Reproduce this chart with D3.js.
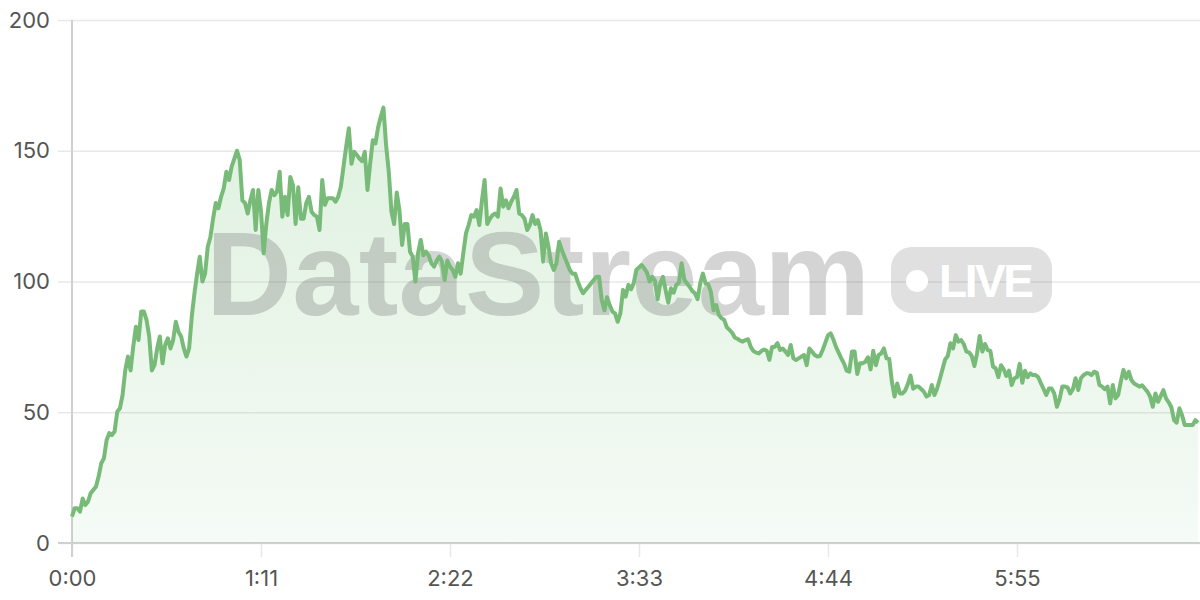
<!DOCTYPE html>
<html><head><meta charset="utf-8">
<script src="https://cdn.jsdelivr.net/npm/d3@7"></script>
<style>html,body{margin:0;padding:0;background:#fff;}svg{display:block;}</style>
</head><body>
<svg id="chart" width="1200" height="600"></svg>
<script>
const values = [
10.1,13.3,13.3,12,17,14.5,15.8,19,20.3,21.5,
25.4,30.5,32.4,39.4,42,41.3,42.6,50.2,51.5,56.6,
66,71.3,66,75,82.7,77.6,88.5,88.5,85.3,79,
66,68,74.4,79,68.7,75.7,78.3,74.4,77.6,84.6,
80.8,79,74.4,71.3,74.4,86.6,95.5,103,109.5,100,
103,113.3,117,124,130,128,132.4,135.6,142,138.8,
144,147,150,146.5,131,130,126,131,135,119.7,
135,127,110.8,122,130,135,133,134.4,142,124.8,
132.4,125.4,140,136.9,122,136,124,124,130,132.4,
126.7,125.4,124.8,119.7,138.8,129.3,131.8,131.8,131.8,130.5,
132.4,136.3,144,151.6,158.6,145,149.6,148.4,147,146,
149.6,135,145,154,152.8,159,163,166.5,152,142,
126.7,122,134,127.3,114,122,122,111.4,109.5,100,
110.8,115.9,110,111.4,110,107,105.7,108,109.5,107.6,
100.6,108,105.7,104.4,101.8,107,103,110.8,118.4,121.6,
125.4,124.8,127.3,121.6,131,138.8,122,124,125.4,126,
124.8,135.6,128.6,131,128,130.5,132.4,135,126,125.4,
124,119.7,121.6,125.4,122,123.5,119.7,107.6,118.4,113.3,
107,104.4,107,115.2,112,109.5,107,104.4,103,103,
100,97.4,95.5,96.8,98,99.3,100.6,101.8,101.8,93,
89,94,91,88.5,87.8,84.6,87.8,96.8,94.2,98.7,
97,99.3,104.4,105.4,106.3,105,103.4,100,101.8,100.3,
93.2,99.3,101.8,96.7,91.9,97.4,95.7,98.7,99.6,107,
100.8,99.3,98,96.4,95.5,93.2,99.3,103,99.3,99,
96,89,91,87.2,86,85.3,82.5,81.5,80.4,78.6,
78.1,77.4,77,77.6,77.9,75,73.4,72.8,72.5,73.4,
74,73.5,70,75,75,76.4,73.8,74.4,73.2,71.9,
75.7,70.6,70,70.6,71.3,71.9,68,74.4,73.2,71.9,
71.3,71.5,73.8,76.6,79.4,80.2,77.9,75,72.8,70.6,
68.7,65.9,65.5,73.2,73.2,64.6,68.7,68.7,69.3,71,
66.4,73.5,68,71.9,72.5,74.4,70.6,70.4,61.7,56,
61,57.2,57.2,58.3,60.8,64,59,59.8,59.8,58.9,
57.9,56,56.6,60.4,56.6,59.1,62.6,66.4,70.2,71.5,
76.4,74.4,79.5,77,77.6,76.1,73.2,72.9,71.5,67.7,
72.5,79.2,73.2,76.1,73.8,73.5,67.4,66.8,63.4,68,
66.4,63.9,65.9,60.4,63,63.4,68.5,61.3,65.9,63.4,
64.9,64.2,64.2,63.4,61,58.9,56.6,59.1,59.1,57.2,
52.1,54.9,59.8,59.8,59.5,57.2,58.8,63,58.5,63,
64.2,64.9,64.9,64.2,65.5,65.1,60.4,59.8,58.8,59.8,
53.4,60.4,55.3,56.6,61.7,66.2,63,65.5,62.3,61,
60.4,59.8,60.3,59.1,57.9,56,52.1,57.2,54,56.2,
58.5,55.3,53.8,51.9,47,46,51.5,48.9,45.1,45.1,
45.1,45.1,47,46
];
const seconds = values.map((v, i) => i);
const xTickValues = [0, 71, 142, 213, 284, 355];
const xTickLabels = ["0:00", "1:11", "2:22", "3:33", "4:44", "5:55"];
const yTickValues = [0, 50, 100, 150, 200];
const watermarkText = "DataStream";
const badgeText = "LIVE";

(function () {
const svg = d3.select("#chart");
const mLeft = 72, mRight = 1198, mTop = 20, mBottom = 543;
const x = d3.scaleLinear().domain([0, 423]).range([mLeft, mRight]);
const y = d3.scaleLinear().domain([0, 200]).range([mBottom, mTop]);
const data = seconds.map((s, i) => ({s, v: values[i]}));
const labelFont = "Inter, 'Open Sans', sans-serif";

const defs = svg.append("defs");
const grad = defs.append("linearGradient").attr("id", "fillGrad")
  .attr("gradientUnits", "userSpaceOnUse")
  .attr("x1", 0).attr("x2", 0).attr("y1", y(d3.max(values))).attr("y2", mBottom);
grad.append("stop").attr("offset", "0%").attr("stop-color", "#5cb860").attr("stop-opacity", 0.2);
grad.append("stop").attr("offset", "100%").attr("stop-color", "#5cb860").attr("stop-opacity", 0.06);

const yAxis = d3.axisLeft(y).tickValues(yTickValues).tickSize(-(1200 - mLeft)).tickSizeOuter(0).tickPadding(22);
const gy = svg.append("g").attr("transform", `translate(${mLeft},0)`).call(yAxis);
gy.select(".domain").remove();
gy.selectAll(".tick line").attr("stroke", "#e8e8e8").attr("stroke-width", 1.5).attr("x1", -14);
gy.selectAll(".tick text").attr("fill", "#555").style("font-size", "22px").style("font-family", labelFont).attr("x", -22);

const xAxis = d3.axisBottom(x).tickValues(xTickValues).tickFormat((d, i) => xTickLabels[i]).tickSize(-(mBottom - mTop)).tickSizeOuter(0).tickPadding(27);
const gx = svg.append("g").attr("transform", `translate(0,${mBottom})`).call(xAxis);
gx.select(".domain").remove();
gx.selectAll(".tick line").attr("stroke", "#e8e8e8").attr("stroke-width", 1.5).attr("y2", 14);
gx.selectAll(".tick text").attr("fill", "#555").style("font-size", "22px").style("font-family", labelFont);

svg.append("line").attr("x1", mLeft).attr("x2", mLeft).attr("y1", mTop).attr("y2", mBottom + 14).attr("stroke", "#d0d0d0").attr("stroke-width", 2);
svg.append("line").attr("x1", mLeft - 14).attr("x2", 1200).attr("y1", mBottom).attr("y2", mBottom).attr("stroke", "#d0d0d0").attr("stroke-width", 2);

const area = d3.area().x(d => x(d.s)).y0(mBottom).y1(d => y(d.v));
svg.append("path").datum(data).attr("d", area).attr("fill", "url(#fillGrad)");

svg.append("text").attr("x", 206).attr("y", 315).text(watermarkText)
  .style("font-family", "'Liberation Sans', Arial, sans-serif").style("font-weight", "bold")
  .style("font-size", "119px").attr("fill", "#646464").attr("fill-opacity", 0.28).attr("textLength", 664);
const badge = svg.append("g");
badge.append("rect").attr("x", 891).attr("y", 247).attr("width", 161).attr("height", 66).attr("rx", 21)
  .attr("fill", "#646464").attr("fill-opacity", 0.2);
badge.append("circle").attr("cx", 917).attr("cy", 281).attr("r", 11).attr("fill", "#fff");
badge.append("text").attr("x", 939).attr("y", 297).text(badgeText)
  .style("font-family", "'Liberation Sans', Arial, sans-serif").style("font-weight", "bold")
  .style("font-size", "46px").attr("fill", "#fff").attr("textLength", 95);

const line = d3.line().x(d => x(d.s)).y(d => y(d.v));
svg.append("path").datum(data).attr("d", line).attr("fill", "none")
  .attr("stroke", "#78bb78").attr("stroke-width", 4).attr("stroke-linejoin", "round");
})();
</script>
</body></html>
